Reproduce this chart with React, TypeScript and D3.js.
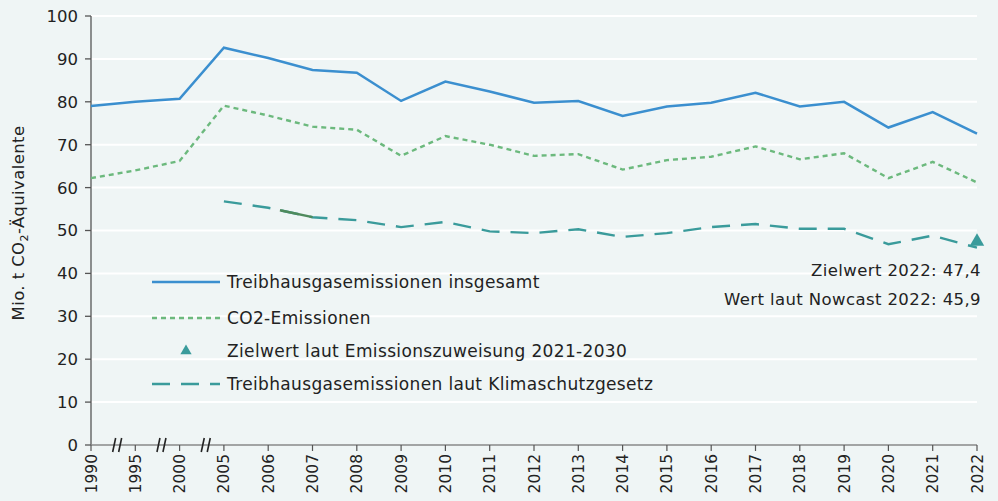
import React from "react";
import * as d3 from "d3";

const years = ["1990","1995","2000","2005","2006","2007","2008","2009","2010","2011","2012","2013","2014","2015","2016","2017","2018","2019","2020","2021","2022"];
const totalValues = [79.0,80.0,80.7,92.6,90.2,87.4,86.8,80.2,84.7,82.4,79.8,80.2,76.7,78.9,79.8,82.1,78.9,80.0,74.0,77.6,72.6];
const co2Values = [62.2,64.0,66.2,79.1,76.8,74.2,73.5,67.4,72.0,70.0,67.4,67.8,64.2,66.4,67.2,69.6,66.6,68.0,62.2,66.0,61.2];
const ksgYears = ["2005","2006","2007","2008","2009","2010","2011","2012","2013","2014","2015","2016","2017","2018","2019","2020","2021","2022"];
const ksgValues = [56.8,55.3,53.1,52.4,50.8,52.0,49.8,49.4,50.3,48.5,49.4,50.8,51.5,50.4,50.4,46.8,48.8,46.0];
const overlapYears = ["2006","2007"];
const overlapValues = [55.3,53.1];
const targetYear = "2022";
const targetValue = 47.4;
const yTicks = [0,10,20,30,40,50,60,70,80,90,100];
const breakBetween = [["1990","1995"],["1995","2000"],["2000","2005"]];
const legendItems = ["Treibhausgasemissionen insgesamt","CO2-Emissionen","Zielwert laut Emissionszuweisung 2021-2030","Treibhausgasemissionen laut Klimaschutzgesetz"];
const annotations = ["Zielwert 2022: 47,4","Wert laut Nowcast 2022: 45,9"];

const W = 998, H = 501;
const FONT = "'DejaVu Sans', 'Open Sans', sans-serif";
const BLUE = "#3b8fcf";
const GREEN = "#6cb97d";
const TEAL = "#3a9b9b";
const DARKG = "#4f8a5c";

export default function App() {
  const x = d3.scalePoint<string>().domain(years).range([91, 977]);
  const y = d3.scaleLinear().domain([0, 100]).range([445, 16]);
  const line = d3.line<[string, number]>().x(d => x(d[0]) as number).y(d => y(d[1]));
  const pairs = (ks: string[], vs: number[]) => ks.map((k, i) => [k, vs[i]] as [string, number]);
  const tri = d3.symbol().type(d3.symbolTriangle).size(90)();
  const triSmall = d3.symbol().type(d3.symbolTriangle).size(55)();
  const legendY = [282, 318, 351, 384];
  return (
    <svg width={W} height={H} style={{ position: "absolute", left: 0, top: 0, display: "block" }} fontFamily={FONT}>
      <rect x={0} y={0} width={W} height={H} fill="#eff5f5" />
      {yTicks.filter(t => t > 0).map(t => (
        <line key={t} x1={91} x2={977} y1={y(t)} y2={y(t)} stroke="#ffffff" strokeWidth={2} />
      ))}
      <line x1={91} x2={91} y1={y(100)} y2={y(0)} stroke="#555" strokeWidth={1.3} />
      {yTicks.map(t => (
        <g key={t}>
          <line x1={85} x2={91} y1={y(t)} y2={y(t)} stroke="#555" strokeWidth={1.3} />
          <text x={78} y={y(t)} dy="0.36em" textAnchor="end" fontSize={16.5} fill="#222">{t}</text>
        </g>
      ))}
      <text transform={`translate(24,${223}) rotate(-90)`} textAnchor="middle" fontSize={16.5} letterSpacing={0.4} fill="#222">
        Mio. t CO<tspan fontSize={11} dy={4}>2</tspan><tspan dy={-4}>-Äquivalente</tspan>
      </text>
      <line x1={91} x2={977} y1={y(0)} y2={y(0)} stroke="#888" strokeWidth={1.5} />
      {years.map(yr => (
        <g key={yr}>
          <line x1={x(yr)} x2={x(yr)} y1={y(0)} y2={y(0) + 6} stroke="#555" strokeWidth={1.2} />
          <text transform={`translate(${(x(yr) as number)},${y(0) + 9}) rotate(-90)`} textAnchor="end" dy="0.36em" fontSize={15.5} fill="#222">{yr}</text>
        </g>
      ))}
      {breakBetween.map(([a, b]) => {
        const cx = ((x(a) as number) + (x(b) as number)) / 2 + 4.5;
        const cy = y(0);
        return (
          <g key={a} stroke="#222" strokeWidth={1.6}>
            <line x1={cx - 5} x2={cx - 2} y1={cy + 7} y2={cy - 7} />
            <line x1={cx + 1} x2={cx + 4} y1={cy + 7} y2={cy - 7} />
          </g>
        );
      })}
      <path d={line(pairs(years, totalValues)) as string} fill="none" stroke={BLUE} strokeWidth={2.5} />
      <path d={line(pairs(years, co2Values)) as string} fill="none" stroke={GREEN} strokeWidth={2.4} strokeDasharray="5,4" />
      <path d={line(pairs(ksgYears, ksgValues)) as string} fill="none" stroke={TEAL} strokeWidth={2.4} strokeDasharray="18,11" />
      <path d={line(pairs(overlapYears, overlapValues)) as string} fill="none" stroke={DARKG} strokeWidth={2.4} strokeDasharray="0,12,40,50" />
      <path d={tri as string} transform={`translate(${x(targetYear)},${y(targetValue)})`} fill={TEAL} />
      <text x={981} y={276} textAnchor="end" fontSize={16.5} letterSpacing={0.4} fill="#222">{annotations[0]}</text>
      <text x={981} y={305} textAnchor="end" fontSize={16.5} letterSpacing={0.4} fill="#222">{annotations[1]}</text>
      <line x1={152} x2={220} y1={legendY[0]} y2={legendY[0]} stroke={BLUE} strokeWidth={2.5} />
      <line x1={152} x2={220} y1={legendY[1]} y2={legendY[1]} stroke={GREEN} strokeWidth={2.4} strokeDasharray="5,4" />
      <path d={triSmall as string} transform={`translate(186,${legendY[2]})`} fill={TEAL} />
      <line x1={152} x2={220} y1={legendY[3]} y2={legendY[3]} stroke={TEAL} strokeWidth={2.4} strokeDasharray="18,11" />
      {legendItems.map((t, i) => (
        <text key={t} x={227} y={legendY[i]} dy="0.36em" fontSize={17} letterSpacing={0.35} fill="#222">{t}</text>
      ))}
    </svg>
  );
}
